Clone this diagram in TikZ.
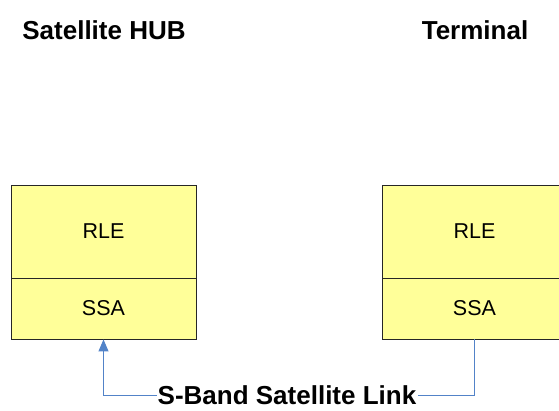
\documentclass[tikz,border=0pt]{standalone}
\usepackage{fontspec}
\setmainfont{Liberation Sans}
\usetikzlibrary{arrows.meta}
\definecolor{boxfill}{HTML}{FFFF99}
\definecolor{linkblue}{HTML}{5283C8}
\begin{document}
\begin{tikzpicture}[x=1pt,y=-1pt,
  layer/.style={draw=black!85, line width=0.9pt, fill=boxfill, inner sep=0pt,
    minimum width=185pt, font=\fontsize{21.5}{24}\selectfont},
  title/.style={font=\bfseries\fontsize{26}{30}\selectfont, inner sep=0pt},
  link/.style={draw=linkblue, line width=1pt}]
\useasboundingbox (0,0) rectangle (559,410);
\clip (0,0) rectangle (559,410);
\node[title] (hubtitle) at (104,30) {Satellite HUB};
\node[title] (termtitle) at (475,30) {Terminal};
\node[layer, minimum height=93pt] (hubRLE) at (103.5,231.5) {RLE};
\node[layer, minimum height=61pt] (hubSSA) at (103.5,308.5) {SSA};
\node[layer, minimum height=93pt] (termRLE) at (474.5,231.5) {RLE};
\node[layer, minimum height=61pt] (termSSA) at (474.5,308.5) {SSA};
\node[title, fill=white, inner xsep=1pt] (linklabel) at (287,395) {S-Band Satellite Link};
\draw[link, -{Triangle[length=12pt,width=10pt]}] (linklabel.west) -| (hubSSA.south);
\draw[link] (termSSA.south) |- (linklabel.east);
\end{tikzpicture}
\end{document}
